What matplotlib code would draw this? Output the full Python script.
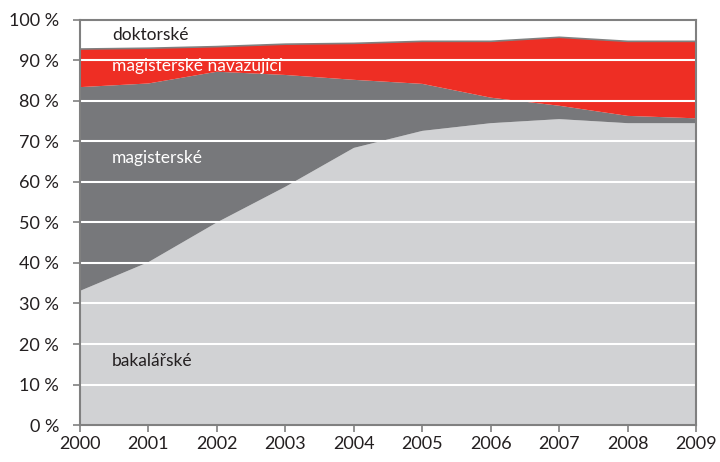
import numpy as np
import matplotlib.pyplot as plt

plt.rcParams['font.family'] = ['Lato', 'DejaVu Sans']

roky = [2000, 2001, 2002, 2003, 2004, 2005, 2006, 2007, 2008, 2009]
# podíly jednotlivých typů studia (%)
bakalarske = [33.1, 40.2, 50.0, 58.8, 68.4, 72.6, 74.5, 75.5, 74.5, 74.5]
magisterske = [50.3, 44.1, 37.2, 27.6, 16.8, 11.6, 6.3, 3.3, 1.8, 1.2]
navazujici = [9.4, 8.7, 6.2, 7.6, 9.0, 10.5, 13.9, 16.9, 18.4, 19.0]
doktorske = [7.2, 7.0, 6.6, 6.0, 5.8, 5.3, 5.3, 4.3, 5.3, 5.3]
nazvy = ['bakalářské', 'magisterské', 'magisterské navazující', 'doktorské']
barvy = ['#d1d2d4', '#77787b', '#ee2e24', '#ffffff']

fig = plt.figure(figsize=(7.2, 4.62), dpi=100)
ax = fig.add_axes([0.111, 0.080, 0.856, 0.877])

ax.stackplot(roky, bakalarske, magisterske, navazujici, doktorske,
             colors=barvy, linewidth=0, zorder=1)
horni = np.array(bakalarske) + np.array(magisterske) + np.array(navazujici)
ax.plot(roky, horni, c='#808080', lw=1.2, zorder=3)

ax.set_xlim(2000, 2009)
ax.set_ylim(0, 100)
ax.set_xticks(roky)
ax.set_yticks(range(0, 101, 10))
ax.set_yticklabels(['%d %%' % v for v in range(0, 101, 10)])
for v in range(10, 100, 10):
    ax.axhline(v, c='white', lw=1.5, zorder=2)

for s in ax.spines.values():
    s.set_color('#808080')
    s.set_linewidth(1.5)
    s.set_zorder(4)
ax.tick_params(axis='both', colors='#808080', labelcolor='#231f20',
               labelsize=13, length=5, width=1.2)
ax.tick_params(axis='y', pad=10)
ax.tick_params(axis='x', pad=3)

ax.text(2000.47, 96.3, nazvy[3], fontsize=12.5, color='#231f20', va='center', zorder=5)
ax.text(2000.47, 88.6, nazvy[2], fontsize=12.5, color='white', va='center', zorder=5)
ax.text(2000.47, 65.9, nazvy[1], fontsize=12.5, color='white', va='center', zorder=5)
ax.text(2000.47, 15.8, nazvy[0], fontsize=12.5, color='#231f20', va='center', zorder=5)

fig.savefig('out.png', dpi=100)
